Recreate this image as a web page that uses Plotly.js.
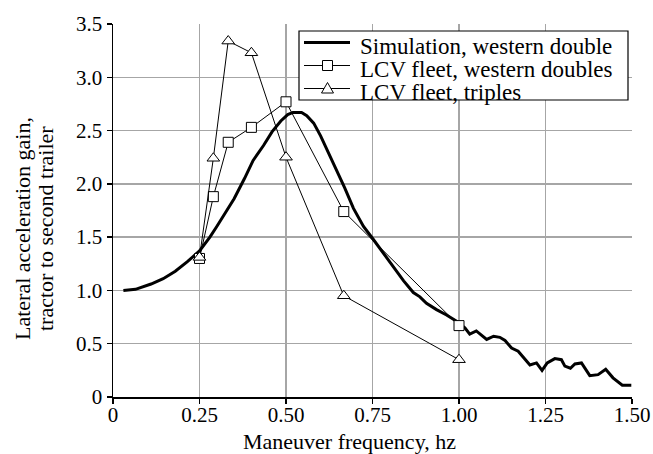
<!DOCTYPE html>
<html><head><meta charset="utf-8">
<script src="https://cdn.plot.ly/plotly-3.0.1.min.js"></script>
<style>html,body{margin:0;padding:0;background:#fff}</style>
</head><body><div id="chart" style="width:653px;height:454px"></div>
<script>
// Simulation, western double
const simFreq = [0.03,0.065,0.11,0.145,0.18,0.215,0.25,0.28,0.30,0.32,0.35,0.38,0.405,0.435,0.46,0.485,0.505,0.52,0.545,0.56,0.58,0.60,0.625,0.65,0.67,0.695,0.724,0.752,0.781,0.81,0.84,0.868,0.887,0.906,0.935,0.964,0.993,1.017,1.031,1.05,1.08,1.10,1.118,1.133,1.152,1.171,1.205,1.224,1.24,1.255,1.277,1.296,1.306,1.322,1.335,1.354,1.378,1.402,1.424,1.445,1.472,1.498];
const simGain = [1.00,1.01,1.06,1.11,1.18,1.27,1.37,1.50,1.60,1.70,1.86,2.05,2.22,2.36,2.49,2.59,2.65,2.67,2.67,2.64,2.57,2.45,2.28,2.11,1.96,1.77,1.60,1.48,1.35,1.22,1.09,0.98,0.94,0.88,0.82,0.77,0.71,0.65,0.59,0.62,0.54,0.57,0.56,0.53,0.46,0.43,0.30,0.32,0.25,0.32,0.36,0.35,0.29,0.27,0.31,0.32,0.20,0.21,0.26,0.18,0.11,0.11];
// LCV fleet test points
const lcvFreq = [0.25,0.29,0.333,0.40,0.50,0.667,1.00];
const doublesGain = [1.30,1.88,2.39,2.53,2.77,1.74,0.67];
const triplesGain = [1.31,2.24,3.34,3.23,2.25,0.95,0.35];
const seriesNames = ['Simulation, western double','LCV fleet, western doubles','LCV fleet, triples'];
const xTickVals = [0,0.25,0.5,0.75,1,1.25,1.5];
const xTickText = ['0','0.25','0.50','0.75','1.00','1.25','1.50'];
const yTickVals = [0,0.5,1,1.5,2,2.5,3,3.5];
const yTickText = ['0','0.5','1.0','1.5','2.0','2.5','3.0','3.5'];
const xTitle = 'Maneuver frequency, hz';
const yTitleLines = ['Lateral acceleration gain,','tractor to second trailer'];

const FONT = 'Liberation Serif';
const traces = [
  {x: simFreq, y: simGain, mode:'lines', name: seriesNames[0], line:{color:'#000', width:3}, showlegend:false},
  {x: lcvFreq, y: doublesGain, mode:'lines+markers', name: seriesNames[1], line:{color:'#000', width:1},
   marker:{symbol:'square', size:10, color:'#fff', line:{color:'#000', width:1}}, showlegend:false},
  {x: lcvFreq, y: triplesGain, mode:'lines+markers', name: seriesNames[2], line:{color:'#000', width:1},
   marker:{symbol:'triangle-up', size:11, color:'#fff', line:{color:'#000', width:1}}, showlegend:false}
];

// manual legend geometry (paper units)
const px = p => (p - 113) / 519;
const py = p => (397 - p) / 373;
const legX0 = px(299), legX1 = px(628), legY1 = py(31), legY0 = py(100);
const rowsY = [42.5, 65.5, 88.5];
const sx0 = px(304), sx1 = px(350);
const shapes = [
  {type:'rect', xref:'paper', yref:'paper', x0:legX0, x1:legX1, y0:legY0, y1:legY1, line:{color:'#000', width:1.2}, fillcolor:'#fff', layer:'above'},
  {type:'line', xref:'paper', yref:'paper', x0:sx0, x1:sx1, y0:py(rowsY[0]), y1:py(rowsY[0]), line:{color:'#000', width:3}, layer:'above'},
  {type:'line', xref:'paper', yref:'paper', x0:sx0, x1:sx1, y0:py(rowsY[1]), y1:py(rowsY[1]), line:{color:'#000', width:1}, layer:'above'},
  {type:'line', xref:'paper', yref:'paper', x0:sx0, x1:sx1, y0:py(rowsY[2]), y1:py(rowsY[2]), line:{color:'#000', width:1}, layer:'above'},
  {type:'rect', xref:'paper', yref:'paper', x0:px(322.5), x1:px(332.5), y0:py(rowsY[1]+5), y1:py(rowsY[1]-5), line:{color:'#000', width:1}, fillcolor:'#fff', layer:'above'},
  {type:'path', xref:'paper', yref:'paper', path:`M ${px(321.5)} ${py(rowsY[2]+4.5)} L ${px(333.5)} ${py(rowsY[2]+4.5)} L ${px(327.5)} ${py(rowsY[2]-6)} Z`, line:{color:'#000', width:1}, fillcolor:'#fff', layer:'above'}
];
const annotations = seriesNames.map((t,i) => ({
  text: t, xref:'paper', yref:'paper', x: px(358), y: py(rowsY[i]+4), xanchor:'left', yanchor:'middle',
  showarrow:false, font:{family:FONT, size:23, color:'#000'}
}));
annotations.push({text:xTitle, xref:'paper', yref:'paper', x: px(349.5), y: py(441), xanchor:'center', yanchor:'middle', showarrow:false, font:{family:FONT, size:22, color:'#000'}});
annotations.push({text:yTitleLines[0], xref:'paper', yref:'paper', x: px(23), y: py(229), xanchor:'center', yanchor:'middle', textangle:-90, showarrow:false, font:{family:FONT, size:22, color:'#000'}});
annotations.push({text:yTitleLines[1], xref:'paper', yref:'paper', x: px(46), y: py(229), xanchor:'center', yanchor:'middle', textangle:-90, showarrow:false, font:{family:FONT, size:22, color:'#000'}});

const layout = {
  width:653, height:454,
  margin:{l:113, r:21, t:24, b:57, pad:0},
  paper_bgcolor:'#fff', plot_bgcolor:'#fff',
  font:{family:FONT, size:21, color:'#000'},
  showlegend:false,
  xaxis:{range:[0,1.5], tickvals:xTickVals, ticktext:xTickText, showgrid:true, gridcolor:'#a6a6a6', gridwidth:1.5,
    showline:true, linecolor:'#000', linewidth:1.5, ticks:'outside', ticklen:5, tickcolor:'#000', tickwidth:1.5,
    ticklabelstandoff:-7,
    zeroline:false, fixedrange:true, tickfont:{family:FONT, size:21}},
  yaxis:{range:[0,3.5], tickvals:yTickVals, ticktext:yTickText, showgrid:true, gridcolor:'#a6a6a6', gridwidth:1.5,
    showline:true, linecolor:'#000', linewidth:1.5, ticks:'outside', ticklen:5, tickcolor:'#000', tickwidth:1.5,
    zeroline:false, fixedrange:true, tickfont:{family:FONT, size:21}},
  shapes: shapes,
  annotations: annotations
};
Plotly.newPlot('chart', traces, layout, {displayModeBar:false, staticPlot:true});
</script></body></html>
